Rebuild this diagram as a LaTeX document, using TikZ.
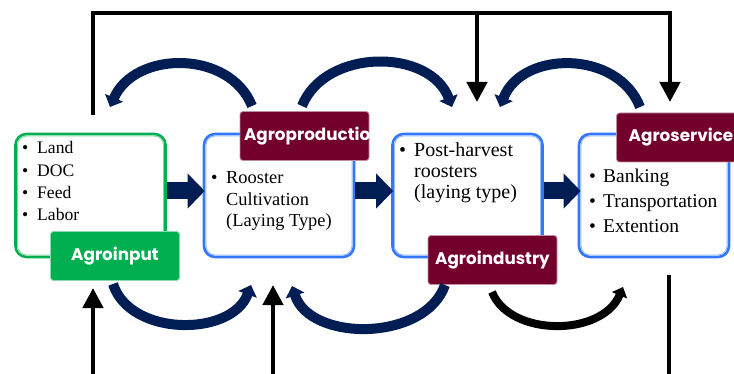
\documentclass[tikz,border=0pt]{standalone}
\usepackage{fontspec}
\setmainfont{Liberation Serif}
\newfontfamily\labelfont{Poppins}
\usetikzlibrary{arrows.meta}
\definecolor{navy}{RGB}{0,30,84}
\definecolor{maroonlab}{RGB}{114,0,42}
\definecolor{greenlab}{RGB}{0,176,80}
\definecolor{greenbord}{RGB}{0,176,80}
\definecolor{greenin}{RGB}{130,215,160}
\definecolor{bluebord}{RGB}{51,119,255}
\definecolor{bluein}{RGB}{150,185,255}
\begin{document}
\begin{tikzpicture}[x=1pt,y=-1pt,
  content/.style={draw=#1, line width=2.6pt, rounded corners=11pt,
    minimum width=150pt, minimum height=123pt, inner sep=0pt, fill=white},
  innerline/.style={draw=#1, line width=0.9pt, rounded corners=9pt},
  boxtext/.style={anchor=base west, inner sep=0pt, align=left},
  labelbox/.style={fill=#1, draw=white!55!#1, line width=0.9pt, rounded corners=3pt,
    minimum width=129pt, minimum height=49pt, inner sep=0pt,
    text=white, font=\labelfont\bfseries\fontsize{16.8}{19}\selectfont},
  fatarrow/.style={draw=navy, line width=17pt, -{Triangle[width=34pt,length=17pt]}},
  arcarrow/.style={draw=navy, line width=10pt, -{Triangle[width=19pt,length=10pt]}},
  blackarc/.style={draw=black, line width=8pt, -{Triangle[width=16pt,length=9pt]}},
  feedline/.style={draw=black, line width=4.5pt},
  feedarrow/.style={draw=black, line width=4.5pt, -{Triangle[width=20pt,length=20pt]}}
]
\useasboundingbox (0,0) rectangle (734,374);
\clip (0,0) rectangle (734,374);

% content boxes
\node[content=greenbord] (b1) at (90.5,195.5) {};
\node[content=bluebord] (b2) at (279,195.5) {};
\node[content=bluebord] (b3) at (467.5,195.5) {};
\node[content=bluebord] (b4) at (654,195.5) {};
\foreach \b/\c in {b1/greenin,b2/bluein,b3/bluein,b4/bluein}{
  \draw[innerline=\c] ([shift={(3.3,3.3)}]\b.north west) rectangle ([shift={(-3.3,-3.3)}]\b.south east);
}

% box texts
\node[boxtext, font=\fontsize{17.6}{22.3}\selectfont] (t1) at (22,154)
  {\begin{tabular}[t]{@{}l@{}l@{}}\makebox[15pt][l]{\textbullet}&Land\\ \makebox[15pt][l]{\textbullet}&DOC\\ \makebox[15pt][l]{\textbullet}&Feed\\ \makebox[15pt][l]{\textbullet}&Labor\end{tabular}};
\node[boxtext, font=\fontsize{18.4}{21.5}\selectfont] (t2) at (211,184)
  {\begin{tabular}[t]{@{}l@{}l@{}}\makebox[15pt][l]{\textbullet}&Rooster\\ &Cultivation\\ &(Laying Type)\end{tabular}};
\node[boxtext, font=\fontsize{20}{21}\selectfont] (t3) at (399,157)
  {\begin{tabular}[t]{@{}l@{}l@{}}\makebox[15pt][l]{\textbullet}&Post-harvest\\ &roosters\\ &(laying type)\end{tabular}};
\node[boxtext, font=\fontsize{19.5}{25}\selectfont] (t4) at (589,183)
  {\begin{tabular}[t]{@{}l@{}l@{}}\makebox[14pt][l]{\textbullet}&Banking\\ \makebox[14pt][l]{\textbullet}&Transportation\\ \makebox[14pt][l]{\textbullet}&Extention\end{tabular}};

% fat arrows between boxes
\draw[fatarrow] ([yshift=4.5pt]b1.east) -- ([yshift=4.5pt,xshift=2pt]b2.west);
\draw[fatarrow] ([yshift=4.5pt]b2.east) -- ([yshift=4.5pt,xshift=2pt]b3.west);
\draw[fatarrow] ([yshift=4.5pt]b3.east) -- ([yshift=4.5pt,xshift=3pt]b4.west);

% labels
\node[labelbox=greenlab] (l1) at (115,256) {Agroinput};
\node[labelbox=maroonlab] (l2) at (304.5,136) {\makebox[121pt][l]{Agroproduction}};
\node[labelbox=maroonlab] (l3) at (492.5,260) {Agroindustry};
\node[labelbox=maroonlab] (l4) at (681,137.5) {Agroservice};

% arc end points
\coordinate (a1s) at (252,106); \coordinate (a1e) at (110,107);
\coordinate (a2s) at (302,106); \coordinate (a2e) at (452,107);
\coordinate (a3s) at (640,107); \coordinate (a3e) at (500,107);
\coordinate (c1s) at (113,284); \coordinate (c1e) at (251,285);
\coordinate (c2s) at (445,285); \coordinate (c2e) at (292,286);
\coordinate (c3s) at (492,292); \coordinate (c3e) at (623,287);

% top arcs
\draw[arcarrow] (a1s) .. controls (230,50) and (135,50) .. (a1e);
\draw[arcarrow] (a2s) .. controls (325,48) and (430,48) .. (a2e);
\draw[arcarrow] (a3s) .. controls (618,50) and (522,50) .. (a3e);
% bottom arcs
\draw[arcarrow] (c1s) .. controls (130,337) and (232,337) .. (c1e);
\draw[arcarrow] (c2s) .. controls (425,342) and (310,342) .. (c2e);
\draw[blackarc] (c3s) .. controls (510,337) and (602,337) .. (c3e);

% black feedback lines
\coordinate (f0) at (93,115);
\coordinate (f1) at (93,13);
\coordinate (f2) at (670,13);
\coordinate (f3) at (670,102);
\coordinate (fb) at (477,13);
\coordinate (fbe) at (477,102);
\draw[feedarrow, line join=miter] (f0) -- (f1) -- (f2) -- (f3);
\draw[feedarrow] (fb) -- (fbe);
\coordinate (g1s) at (93,380); \coordinate (g1e) at (93,288);
\coordinate (g2s) at (273,380); \coordinate (g2e) at (273,285);
\draw[feedarrow] (g1s) -- (g1e);
\draw[feedarrow] (g2s) -- (g2e);
\coordinate (h1s) at (669,275); \coordinate (h1e) at (669,380);
\draw[feedline] (h1s) -- (h1e);
\end{tikzpicture}
\end{document}
